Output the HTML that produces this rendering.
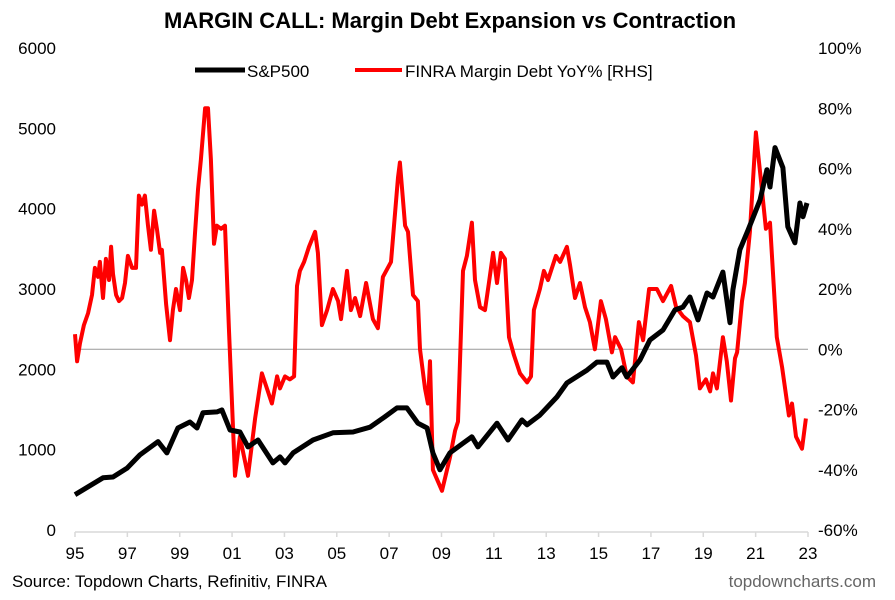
<!DOCTYPE html>
<html><head><meta charset="utf-8">
<style>
html,body{margin:0;padding:0;background:#fff;}
svg{display:block;font-family:"Liberation Sans",Arial,sans-serif;}
</style></head>
<body>
<svg id="chart" width="895" height="600" viewBox="0 0 895 600">
<text x="450" y="28" text-anchor="middle" font-size="22" font-weight="bold" fill="#000">MARGIN CALL: Margin Debt Expansion vs Contraction</text>
<g>
<line x1="195" y1="70" x2="245" y2="70" stroke="#000" stroke-width="5"/>
<text x="247" y="77" font-size="17">S&amp;P500</text>
<line x1="355" y1="70" x2="402" y2="70" stroke="#f00" stroke-width="4"/>
<text x="405" y="77" font-size="17">FINRA Margin Debt YoY% [RHS]</text>
</g>
<g id="axes"></g>
<g id="series"></g>
<text x="12" y="587" font-size="17">Source: Topdown Charts, Refinitiv, FINRA</text>
<text x="876" y="587" font-size="17" text-anchor="end" fill="#666">topdowncharts.com</text>
</svg>
<script>
const xTickLabels = ["95","97","99","01","03","05","07","09","11","13","15","17","19","21","23"];
const leftTicks = [0,1000,2000,3000,4000,5000,6000];
const rightTicks = [-60,-40,-20,0,20,40,60,80,100];

const spDates = [1995.00,1996.07,1996.45,1996.99,1997.48,1998.17,1998.51,1998.93,1999.39,1999.66,1999.89,2000.42,2000.61,2000.92,2001.30,2001.61,2001.99,2002.56,2002.83,2003.02,2003.33,2004.09,2004.85,2005.62,2006.27,2006.84,2007.30,2007.68,2008.10,2008.45,2008.67,2008.94,2009.32,2009.82,2010.16,2010.39,2011.12,2011.54,2012.07,2012.27,2012.76,2013.41,2013.79,2014.56,2014.94,2015.32,2015.55,2015.89,2016.08,2016.58,2016.96,2017.46,2017.92,2018.22,2018.49,2018.80,2019.14,2019.37,2019.75,2020.02,2020.13,2020.40,2020.71,2021.17,2021.43,2021.55,2021.74,2022.04,2022.23,2022.50,2022.69,2022.81,2022.96];
const spValues = [440,650,660,770,935,1100,960,1270,1345,1270,1460,1470,1495,1245,1220,1035,1120,835,910,835,960,1120,1210,1220,1280,1410,1520,1520,1330,1270,960,750,960,1080,1160,1035,1330,1120,1370,1310,1430,1655,1830,1990,2090,2090,1905,2020,1905,2115,2365,2490,2740,2775,2900,2615,2950,2900,3210,2580,2990,3490,3735,4110,4485,4270,4760,4510,3775,3575,4070,3900,4070];

const mdDates = [1995.00,1995.08,1995.19,1995.34,1995.50,1995.65,1995.76,1995.88,1995.95,1996.07,1996.18,1996.30,1996.38,1996.45,1996.57,1996.68,1996.80,1996.91,1997.02,1997.18,1997.33,1997.44,1997.56,1997.67,1997.79,1997.90,1998.02,1998.13,1998.25,1998.32,1998.48,1998.63,1998.74,1998.86,1999.01,1999.13,1999.24,1999.35,1999.47,1999.58,1999.70,1999.81,1999.97,2000.08,2000.19,2000.31,2000.42,2000.58,2000.73,2000.88,2001.11,2001.30,2001.61,2001.88,2002.14,2002.37,2002.52,2002.72,2002.83,2003.02,2003.21,2003.37,2003.48,2003.59,2003.75,2003.94,2004.17,2004.28,2004.43,2004.63,2004.85,2005.05,2005.16,2005.39,2005.54,2005.70,2005.89,2006.12,2006.38,2006.57,2006.76,2007.07,2007.34,2007.41,2007.61,2007.72,2007.91,2008.10,2008.18,2008.37,2008.48,2008.56,2008.67,2009.02,2009.32,2009.52,2009.63,2009.82,2009.97,2010.16,2010.28,2010.47,2010.66,2010.81,2010.97,2011.12,2011.27,2011.42,2011.58,2011.77,2012.00,2012.27,2012.42,2012.53,2012.76,2012.91,2013.07,2013.37,2013.53,2013.79,2013.91,2014.10,2014.29,2014.48,2014.67,2014.86,2015.09,2015.28,2015.51,2015.63,2015.86,2016.08,2016.31,2016.54,2016.70,2016.93,2017.23,2017.46,2017.77,2017.96,2018.22,2018.49,2018.72,2018.87,2019.10,2019.26,2019.37,2019.52,2019.75,2019.90,2020.06,2020.21,2020.29,2020.48,2020.59,2020.78,2021.01,2021.24,2021.39,2021.55,2021.81,2022.01,2022.27,2022.39,2022.54,2022.77,2022.92];
const mdValues = [5,-4,2,8,12,18,27,24,29,17,30,23,34,25,18,16,17,22,31,27,27,51,48,51,41,33,46,40,32,33,15,3,13,20,13,27,23,17,23,38,53,63,80,80,63,35,41,40,41,7,-42,-29,-42,-23,-8,-14,-18,-9,-13,-9,-10,-9,21,26,29,34,39,32,8,13,20,16,10,26,13,17,11,22,10,7,24,29,57,62,41,39,18,16,0,-13,-18,-4,-40,-47,-36,-27,-24,26,31,42,23,14,13,22,32,22,32,30,4,-2,-8,-11,-9,13,20,26,23,31,29,34,28,17,22,14,9,0,16,10,-1,4,0,-9,-11,9,3,20,20,16,21,14,11,9,-2,-13,-10,-14,-8,-13,4,-4,-17,-3,-1,16,22,39,72,53,40,42,4,-6,-22,-18,-29,-33,-23];

const NS="http://www.w3.org/2000/svg";
const X0=75, X1=808, Y0=530, Y1=48;
function xScale(yr){return X0+(yr-1995)/28*(X1-X0);}
function yLeft(v){return Y0-(v/6000)*(Y0-Y1);}
function yRight(p){return Y0-((p+60)/160)*(Y0-Y1);}
function mk(tag,attrs,parent){const e=document.createElementNS(NS,tag);for(const k in attrs)e.setAttribute(k,attrs[k]);parent.appendChild(e);return e;}
const axes=document.getElementById('axes');
const series=document.getElementById('series');

const xAxis=mk('line',{x1:X0,y1:Y0+2,x2:X1,y2:Y0+2,stroke:'#d9d9d9','stroke-width':1.5},axes);


xTickLabels.forEach((lab,i)=>{
  const x=xScale(1995+2*i);
  const tk=mk('line',{x1:x,y1:Y0+2,x2:x,y2:Y0+7,stroke:'#d9d9d9','stroke-width':1.5},axes);
  
  
  const t=mk('text',{x:x,y:559,'text-anchor':'middle','font-size':17},axes);
  t.textContent=lab;
  
  
});
leftTicks.forEach(v=>{
  const t=mk('text',{x:56,y:yLeft(v)+6,'text-anchor':'end','font-size':17},axes);
  t.textContent=String(v);
  
  
});
rightTicks.forEach(p=>{
  const t=mk('text',{x:818,y:yRight(p)+6,'font-size':17},axes);
  t.textContent=p+'%';
  
  
});
const zl=mk('line',{x1:X0,y1:yRight(0),x2:X1,y2:yRight(0),stroke:'#999','stroke-width':1},axes);



const mdPts=mdDates.map((d,i)=>xScale(d).toFixed(1)+','+yRight(mdValues[i]).toFixed(1)).join(' ');
const mdLine=mk('polyline',{points:mdPts,fill:'none',stroke:'#f00','stroke-width':4,'stroke-linejoin':'round'},series);


const spPts=spDates.map((d,i)=>xScale(d).toFixed(1)+','+yLeft(spValues[i]).toFixed(1)).join(' ');
const spLine=mk('polyline',{points:spPts,fill:'none',stroke:'#000','stroke-width':5,'stroke-linejoin':'round'},series);


</script>
</body></html>
